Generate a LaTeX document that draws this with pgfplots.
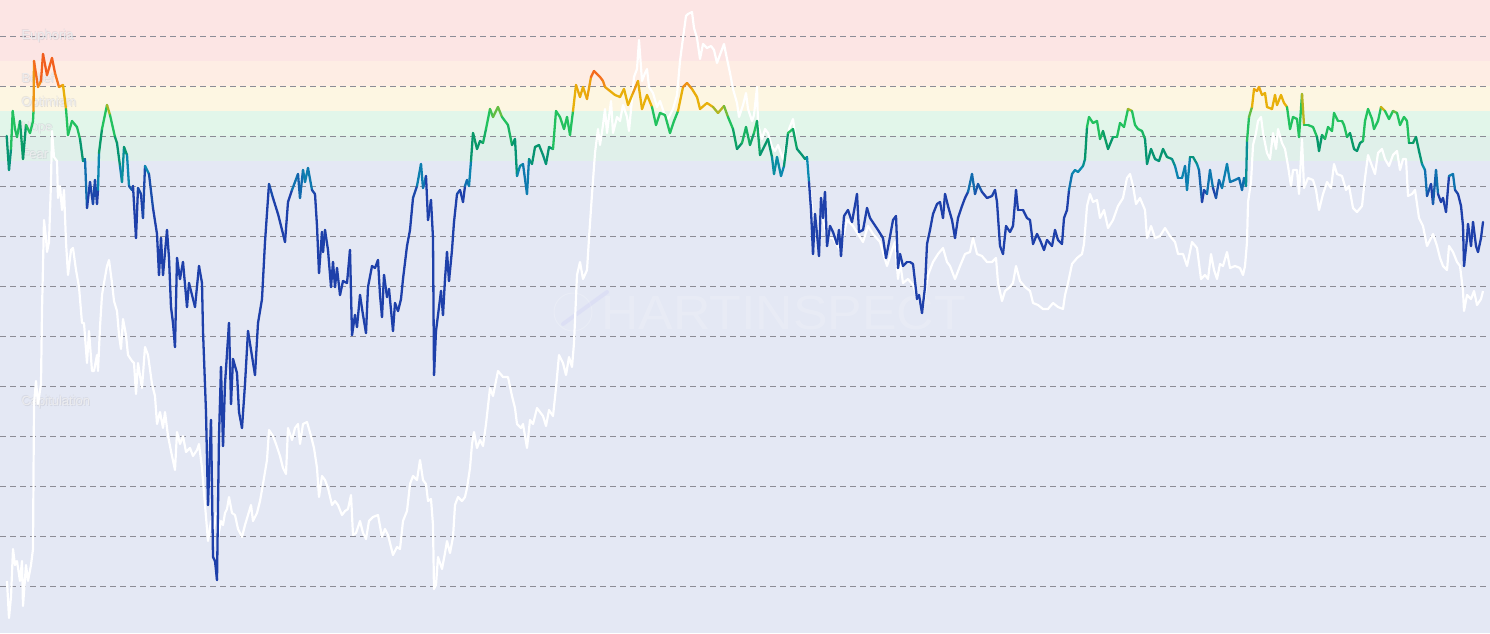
\documentclass[border=0pt]{standalone}
\usepackage{fontspec}
\setmainfont{Liberation Sans}
\usepackage{pgfplots}
\pgfplotsset{compat=1.18}
\definecolor{bEuph}{RGB}{252,229,228}
\definecolor{bBel}{RGB}{254,237,228}
\definecolor{bOpt}{RGB}{253,246,226}
\definecolor{bHope}{RGB}{226,246,234}
\definecolor{bFear}{RGB}{224,240,234}
\definecolor{bCap}{RGB}{228,232,244}
\definecolor{gridc}{RGB}{140,140,150}
\definecolor{lbl}{RGB}{236,236,238}
\definecolor{lblsh}{RGB}{180,180,190}
\definecolor{wmark}{RGB}{200,200,245}

\pgfplotstableread{
x y
6.7 136
9 170
11 149
12.7 111
15 129
17 137
20 121
23 159
26 125
30 133
33 121
33.5 111
34 61
38 87
41 81
43 54
47 75
52 58
55 73
59 87
63 85
66 109
68 135
72 121
77 127
80 139
83 161
85 159
87 208
90 182
93 204
95 180
97 204
98 190
99 153
102 129
107 105
110 115
115 137
117 143
120 166
122 182
124 147
127 155
129 186
132 190
133 186
136 238
138 188
141 194
143 218
145 166
149 174
153 208
157 234
159 275
161 238
163 275
167 230
169 258
171 307
173 323
175 347
177 258
180 279
183 262
187 307
189 283
195 307
199 266
202 283
203 331
206 412
208 505
211 420
213 557
215 561
217 580
219 436
221 367
223 446
225 384
229 323
231 404
233 359
237 373
239 412
242 428
245 384
248 331
255 375
258 323
262 299
265 242
269 184
273 198
278 214
282 230
285 242
288 202
292 190
298 174
300 198
303 170
305 182
308 168
312 190
315 194
317 226
319 273
322 232
323 252
325 230
328 250
331 287
333 262
335 287
337 268
340 295
343 281
347 283
350 250
352 335
355 315
357 327
360 295
363 315
366 333
368 287
372 266
375 268
378 260
380 295
382 317
384 275
387 297
389 289
393 331
395 303
398 311
401 299
403 279
407 246
410 230
413 198
417 186
421 164
423 188
426 176
428 220
431 200
433 238
434 375
436 331
438 315
441 291
443 315
445 279
447 252
449 281
452 250
454 222
457 194
460 190
463 202
465 186
467 180
469 186
471 161
473 133
477 149
480 141
483 143
486 129
490 109
493 117
498 107
502 117
508 125
512 145
515 139
517 176
520 166
523 164
527 194
529 159
532 164
535 147
539 145
543 155
546 164
549 147
553 149
556 111
560 117
564 129
567 117
570 135
573 111
576 85
580 97
583 87
587 99
591 77
594 71
598 75
600 77
603 81
605 87
610 91
615 95
620 97
624 89
628 105
633 93
638 81
642 109
647 95
652 107
656 125
660 113
665 115
670 133
674 121
678 111
683 87
687 83
692 89
697 97
700 109
707 103
713 107
718 113
724 106
728 117
733 129
737 149
742 143
746 127
750 145
754 133
757 121
760 155
765 145
768 139
772 157
774 174
777 157
781 176
784 166
788 133
793 129
797 149
802 155
805 159
807 157
809 182
811 210
813 254
815 214
817 234
819 256
821 198
823 218
825 192
827 246
830 226
833 232
837 244
839 230
841 256
844 216
848 210
852 222
857 194
859 232
863 230
867 208
870 218
874 224
878 230
883 238
886 258
889 242
893 220
896 216
898 268
900 254
903 266
907 262
910 262
913 264
917 299
919 295
922 313
925 287
927 244
930 230
933 214
937 204
940 202
943 218
945 194
948 206
952 220
955 238
958 218
962 206
965 198
968 192
972 174
975 194
978 184
982 192
987 198
992 196
995 190
997 202
1000 246
1003 254
1006 226
1010 232
1013 226
1016 190
1018 210
1023 210
1027 218
1030 220
1033 244
1037 234
1040 240
1044 250
1047 240
1052 246
1055 230
1058 240
1062 244
1064 218
1067 210
1069 190
1072 174
1075 170
1078 172
1083 166
1085 159
1087 127
1089 117
1093 123
1097 121
1100 139
1103 131
1108 149
1113 137
1117 137
1120 123
1124 127
1128 109
1132 111
1135 125
1138 129
1142 131
1145 139
1147 164
1151 149
1155 159
1159 161
1163 149
1167 157
1172 159
1175 166
1178 178
1182 178
1185 166
1187 190
1190 157
1193 157
1197 164
1199 170
1202 202
1204 190
1207 194
1210 170
1213 188
1216 198
1219 180
1222 188
1227 164
1230 182
1235 180
1239 178
1242 190
1244 178
1246 186
1247 141
1249 117
1252 107
1254 89
1257 91
1259 87
1262 95
1265 93
1267 107
1272 109
1275 95
1277 105
1281 95
1284 103
1287 107
1290 129
1293 117
1297 119
1299 137
1302 94
1304 125
1308 125
1313 127
1317 137
1319 151
1322 135
1325 139
1328 127
1332 131
1334 113
1338 121
1342 121
1344 125
1347 137
1350 133
1354 149
1357 151
1360 143
1363 141
1365 121
1368 109
1372 119
1374 129
1378 121
1381 107
1385 111
1389 119
1393 111
1397 113
1400 125
1404 117
1407 121
1409 143
1413 143
1416 137
1419 151
1422 164
1425 170
1427 196
1431 184
1433 204
1436 170
1438 194
1441 202
1443 198
1446 212
1449 176
1453 174
1455 190
1458 194
1461 206
1463 226
1464 266
1467 238
1468 224
1471 246
1473 222
1476 246
1478 252
1481 238
1483 222
}\cycleline

\pgfplotstableread{
x y
7 581
9 618
11 597
13 549
15 565
17 561
20 581
22 561
23 606
26 565
28 581
31 565
33 549
34 404
36 381
38 404
41 384
42 311
44 220
46 238
47 252
49 242
51 182
52 131
54 157
57 161
58 198
60 186
62 210
64 190
66 242
68 275
71 250
73 248
76 270
79 287
82 323
84 323
87 363
89 331
92 371
94 371
97 355
98 371
100 327
102 295
104 283
107 266
109 260
112 283
114 301
117 311
119 335
121 349
123 319
126 335
128 355
132 361
134 363
136 394
138 363
142 388
145 347
148 355
152 384
155 396
157 424
160 412
163 428
165 412
168 436
172 456
175 470
177 432
180 444
183 436
186 452
190 448
193 456
197 450
199 444
202 468
204 493
206 517
208 541
211 521
213 533
216 513
218 537
221 521
223 525
225 513
227 509
229 497
232 513
235 515
238 529
242 537
245 525
248 515
251 505
253 521
257 513
260 501
263 484
267 460
269 430
273 436
276 444
280 456
283 468
286 474
288 428
292 440
295 428
298 424
300 444
303 424
307 422
311 436
314 448
317 468
319 497
322 476
325 480
328 488
332 505
335 501
338 505
342 515
345 511
348 509
351 495
353 535
356 533
360 521
363 533
366 539
369 521
373 517
378 515
382 537
385 529
388 535
393 555
397 547
400 549
403 521
407 511
410 484
413 476
417 480
420 460
423 480
426 484
428 501
431 499
433 525
434 589
436 585
438 557
442 569
445 553
447 541
450 553
453 537
455 505
458 497
462 501
465 497
467 488
470 468
472 444
474 432
477 448
480 440
483 446
486 424
490 388
493 396
498 371
503 377
508 377
512 396
515 408
517 424
521 428
523 424
527 448
530 420
533 424
537 408
540 412
543 416
546 426
549 410
553 416
556 388
559 355
563 363
566 375
569 357
572 367
574 343
577 275
580 262
583 279
587 270
589 238
592 194
595 153
598 129
600 145
603 125
605 109
607 133
611 101
613 133
617 117
620 121
623 105
627 117
629 131
632 99
634 77
637 69
639 40
642 81
645 73
647 69
649 87
653 93
657 107
660 101
664 113
668 119
673 109
677 95
680 61
683 38
686 16
688 14
692 12
694 28
697 38
700 59
703 44
707 48
711 46
714 50
717 63
721 52
724 44
727 59
730 73
733 89
737 103
739 117
743 105
746 93
748 109
752 121
754 115
757 87
758 125
762 139
765 129
768 133
772 147
775 151
778 145
783 159
786 145
789 129
793 119
797 149
800 153
804 157
807 159
809 182
812 206
813 218
818 234
822 214
827 238
833 238
840 250
847 220
853 226
858 234
863 242
868 226
873 234
880 242
887 266
892 250
895 242
898 279
900 262
903 283
908 279
913 285
918 299
923 307
928 275
933 262
938 254
943 248
947 262
950 266
955 279
960 266
965 254
970 252
973 238
977 254
982 256
987 262
992 262
996 258
998 283
1002 301
1005 291
1010 287
1013 283
1016 266
1020 281
1025 287
1030 291
1033 303
1038 305
1043 309
1048 309
1053 303
1058 307
1063 309
1065 295
1068 283
1072 264
1077 258
1082 254
1084 244
1087 206
1090 194
1093 202
1097 200
1100 218
1104 210
1108 228
1113 220
1118 206
1123 198
1127 178
1130 174
1133 186
1136 204
1140 198
1145 210
1147 238
1151 226
1155 238
1160 236
1165 228
1170 236
1175 242
1178 254
1183 254
1187 266
1192 242
1197 248
1201 279
1205 275
1208 279
1211 254
1214 270
1217 279
1220 264
1223 266
1227 252
1230 268
1235 266
1240 268
1243 275
1245 266
1247 242
1248 202
1251 182
1253 145
1256 133
1258 121
1261 117
1263 133
1267 153
1270 159
1273 133
1276 149
1278 129
1282 143
1285 149
1288 166
1291 186
1293 170
1297 170
1299 194
1302 139
1304 188
1308 178
1313 180
1316 190
1319 210
1323 194
1327 182
1331 188
1334 164
1337 174
1342 176
1346 190
1349 186
1353 208
1357 212
1362 206
1365 178
1368 155
1372 166
1375 174
1378 153
1382 149
1385 159
1389 166
1393 155
1397 151
1400 170
1403 159
1406 159
1408 196
1412 194
1415 190
1419 218
1423 226
1427 246
1430 240
1433 234
1437 246
1440 258
1443 266
1447 270
1449 246
1453 252
1457 262
1460 266
1463 291
1464 311
1467 295
1471 299
1474 291
1477 305
1481 299
1483 291
}\priceline

\newcommand{\zonelabel}[3]{%
  \node[anchor=west, text=lblsh, opacity=0.35, font=\fontsize{13}{15}\selectfont, xshift=0.8pt, yshift=-0.8pt] at (axis cs:#1,#2) {#3};
  \node[anchor=west, text=lblsh, opacity=0.25, font=\fontsize{13}{15}\selectfont, xshift=-0.6pt, yshift=0.6pt] at (axis cs:#1,#2) {#3};
  \node[anchor=west, text=lbl, font=\fontsize{13}{15}\selectfont] at (axis cs:#1,#2) {#3};
}

\begin{document}
\begin{tikzpicture}
\begin{axis}[
  width=1490pt, height=633pt, scale only axis,
  xmin=0, xmax=1490, ymin=0, ymax=633, y dir=reverse,
  hide axis, clip=true,
  colormap={cyc}{rgb255(0pt)=(220,30,30); rgb255(55pt)=(225,35,30); rgb255(65pt)=(242,95,30); rgb255(80pt)=(245,115,30); rgb255(88pt)=(236,160,15); rgb255(94pt)=(232,176,10); rgb255(108pt)=(232,176,10); rgb255(114pt)=(34,195,94); rgb255(132pt)=(34,192,95); rgb255(142pt)=(6,150,105); rgb255(158pt)=(6,148,115); rgb255(168pt)=(10,140,176); rgb255(182pt)=(15,115,175); rgb255(194pt)=(30,64,170); rgb255(633pt)=(30,64,170)},
  point meta min=0, point meta max=633,
]
\fill[bEuph] (axis cs:0,0) rectangle (axis cs:1490,60.6);
\fill[bBel] (axis cs:0,60.6) rectangle (axis cs:1490,86.3);
\fill[bOpt] (axis cs:0,86.3) rectangle (axis cs:1490,111);
\fill[bHope] (axis cs:0,111) rectangle (axis cs:1490,136.3);
\fill[bFear] (axis cs:0,136.3) rectangle (axis cs:1490,161);
\fill[bCap] (axis cs:0,161) rectangle (axis cs:1490,633);

\pgfplotsinvokeforeach{36.3,86.3,136.3,186.3,236.3,286.3,336.3,386.3,436.3,486.3,536.3,586.3}{
  \draw[gridc, line width=0.9pt, dash pattern=on 6pt off 4pt] (axis cs:0,#1) -- (axis cs:1490,#1);
}

\zonelabel{18}{36}{Euphoria}
\zonelabel{18}{78}{Belief}
\zonelabel{18}{103}{Optimism}
\zonelabel{18}{128}{Hope}
\zonelabel{18}{154}{Fear}
\zonelabel{18}{402}{Capitulation}

% watermark
\draw[white, opacity=0.2, line width=1pt] (axis cs:573,312) circle[radius=19pt];
\draw[wmark, opacity=0.25, line width=4pt, line cap=round] (axis cs:563,324) -- (axis cs:607,292);
\node[text=white, opacity=0.16, font=\fontsize{48}{52}\selectfont, xscale=1.08, anchor=west, inner sep=0pt] at (axis cs:601,312.5) {HARTINSPECT};

\addplot[white, line width=2.2pt, line join=round, no markers] table[x=x,y=y] {\priceline};
\addplot[mesh, point meta=y, line width=2.3pt, line cap=round, line join=round, no markers] table[x=x,y=y] {\cycleline};
\end{axis}
\end{tikzpicture}
\end{document}
